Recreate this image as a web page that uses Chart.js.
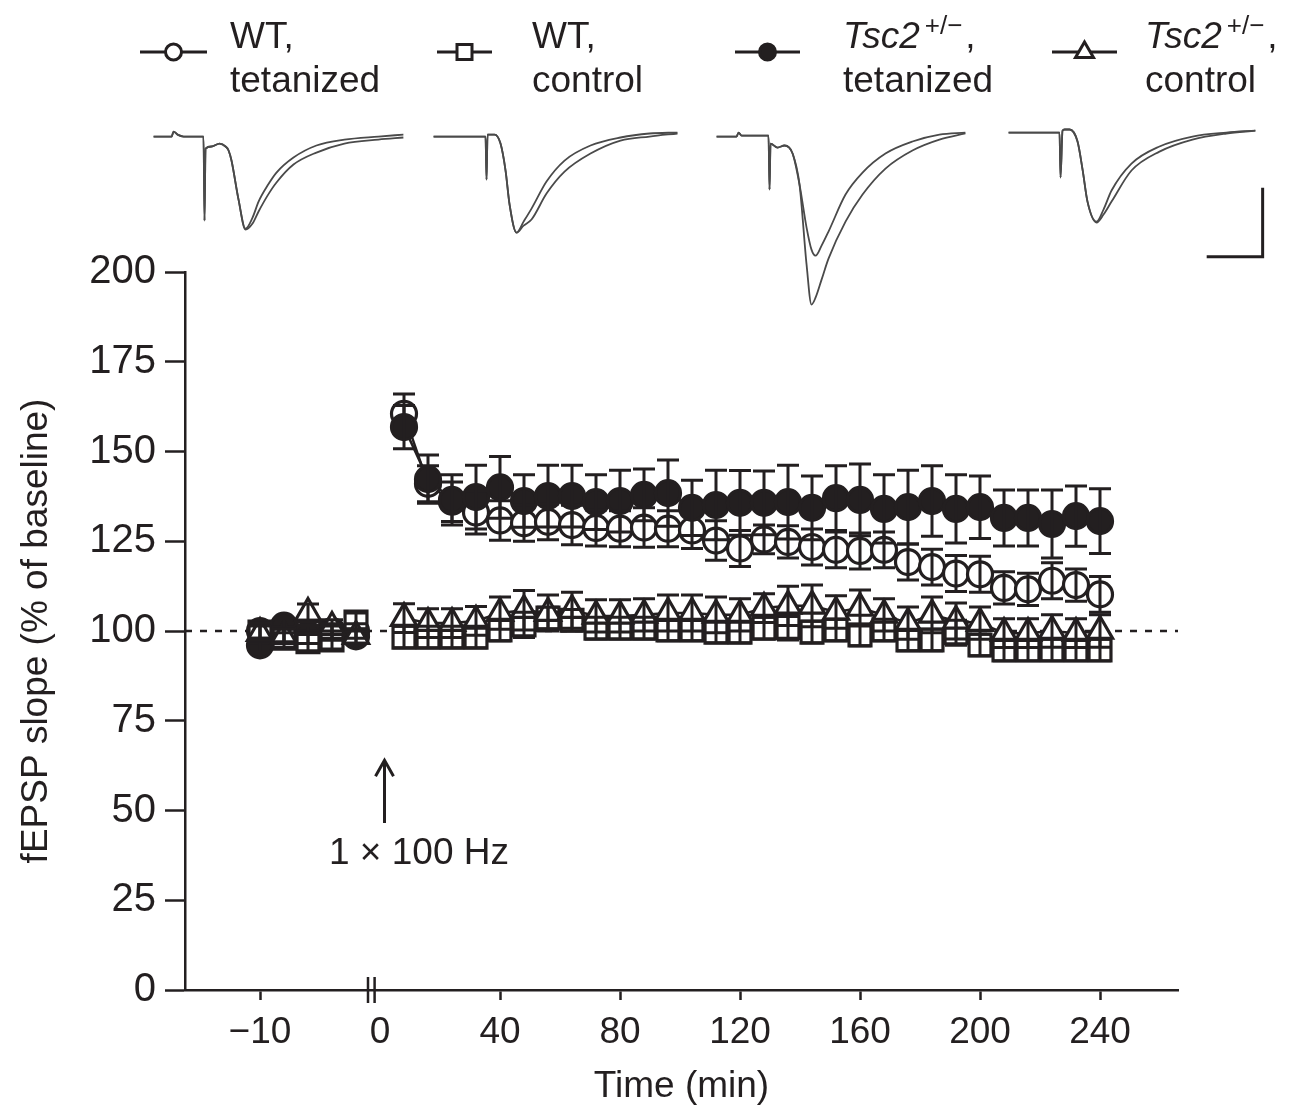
<!DOCTYPE html>
<html>
<head>
<meta charset="utf-8">
<script src="https://cdn.jsdelivr.net/npm/chart.js@4.4.1/dist/chart.umd.min.js"></script>
<style>
  html, body { margin: 0; padding: 0; background: #fff; }
  #wrap { position: relative; width: 1296px; height: 1119px; }
  #wrap canvas { position: absolute; }
</style>
</head>
<body>
<div id="wrap">
  <canvas id="main" width="1296" height="1119" style="left:0;top:0"></canvas>
  <canvas id="tr1" width="263" height="221" style="left:148px;top:102px"></canvas>
  <canvas id="tr2" width="263" height="221" style="left:428px;top:102px"></canvas>
  <canvas id="tr3" width="263" height="221" style="left:711px;top:102px"></canvas>
  <canvas id="tr4" width="263" height="221" style="left:1003px;top:98px"></canvas>
</div>
<script>
const ink = "#231f20";

// time points (min); baseline before the tetanus, then every 8 min after it
const minutes = [-10, -8, -6, -4, -2,
  8, 16, 24, 32, 40, 48, 56, 64, 72, 80, 88, 96, 104, 112, 120,
  128, 136, 144, 152, 160, 168, 176, 184, 192, 200, 208, 216, 224, 232, 240];

// fEPSP slope, % of baseline, with SEM
const wtTet = [100, 99, 101, 100, 100,
  160.5, 141, 136, 133, 130.8, 130, 130.4, 129.5, 128.7, 128.5,
  128.8, 128.5, 128, 125.2, 123, 125.5, 124.8, 123.4, 122.6, 122.3,
  122.6, 119.2, 117.8, 116, 115.8, 112, 111.6, 114, 112.8, 110.2];
const wtTetErr = [2, 2, 2, 2, 2,
  5.5, 5, 5.5, 6, 5.5, 5, 5, 5.5, 5, 5,
  5.5, 5, 5, 5.5, 5, 4, 4.5, 5, 5, 5,
  5, 5, 5, 5, 5, 4.5, 4.5, 5, 4.5, 5];

const wtCtl = [99.7, 98, 97, 97.5, 102.5,
  98.3, 98.3, 98.3, 98.3, 100.3, 101.7, 103.6, 103, 100.8, 100.8,
  100.8, 100.3, 100.3, 99.7, 99.7, 100.8, 101, 99.7, 100.3, 98.9,
  100.3, 97.5, 97.5, 99.5, 96.1, 94.7, 94.7, 94.7, 94.7, 94.7];
const wtCtlErr = [2.5, 2.5, 2.5, 2.5, 2.5,
  3, 3, 3, 3, 3, 3.5, 3, 3, 3, 3,
  3, 3, 3, 3, 3, 3, 3.5, 3, 3, 3,
  3, 3, 3, 3.5, 3, 3, 3, 3, 3, 3];

const tscTet = [96, 101.5, 99, 99.4, 98.5,
  156.8, 142.3, 136.5, 137.3, 140, 136.2, 137.6, 137.6, 135.9, 136.2,
  137.9, 138.4, 134.3, 135.1, 135.7, 135.7, 135.9, 134.3, 137, 136.5,
  134, 134.5, 136.2, 134, 134.5, 131.5, 131.5, 129.8, 132, 130.6];
const tscTetErr = [2, 2, 2.5, 2, 2,
  6, 6.7, 7, 8.9, 8.6, 7.3, 8.6, 8.6, 7.6, 8.6,
  7.2, 9.2, 7.7, 9.7, 9, 8.9, 10.3, 8.9, 9, 10,
  9.5, 10.3, 9.8, 9.5, 8.7, 7.8, 7.8, 9.5, 8.4, 9];

const tscCtl = [99.4, 98.6, 105, 101.1, 98.6,
  103.6, 102.2, 102.2, 102.8, 105, 105.8, 105, 105.8, 104.2, 104.2,
  104.5, 105, 105, 104.5, 104.5, 106.4, 107, 107, 105.3, 106.4,
  104.5, 102.2, 104.5, 102.8, 102.2, 99.4, 99.4, 100, 99.4, 100];
const tscCtlErr = [2, 2, 2.5, 2, 2,
  4, 4, 4, 4, 4.5, 5.5, 5, 5, 4.5, 4.5,
  4.5, 5, 5, 5, 4.5, 4, 5.5, 5.8, 4.5, 5,
  4.5, 4.5, 5, 5, 4.5, 4, 4, 4.5, 4, 4.5];

const xTickMinutes = [-10, 0, 40, 80, 120, 160, 200, 240];
const yTicks = [0, 25, 50, 75, 100, 125, 150, 175, 200];

// example fEPSP traces: time (ms), before / after (mV)
const tr1Time = [0, 1.61, 1.79, 2.14, 2.68, 4.46, 4.55, 4.64, 5.18, 5.89, 6.43, 6.7, 6.96, 7.59, 8.21, 8.84, 9.38, 10.18, 10.98, 12.5, 14.55, 17.05, 20.09, 22.32];
const tr1Before = [0, 0, 0.036, 0.014, 0, 0, -0.609, -0.087, -0.072, -0.051, -0.072, -0.101, -0.174, -0.457, -0.667, -0.587, -0.471, -0.355, -0.261, -0.152, -0.065, -0.022, 0, 0.014];
const tr1After = [0, 0, 0.036, 0.014, 0, 0, -0.609, -0.087, -0.072, -0.051, -0.072, -0.101, -0.174, -0.457, -0.674, -0.63, -0.543, -0.428, -0.333, -0.203, -0.116, -0.051, -0.022, -0.007];

const tr2Time = [0, 4.64, 4.73, 4.82, 5.45, 5.98, 6.43, 6.79, 7.41, 8.04, 8.75, 10.09, 11.7, 14.02, 16.7, 19.29, 21.79];
const tr2Before = [0, 0, -0.312, 0.014, 0.014, -0.051, -0.246, -0.493, -0.696, -0.616, -0.522, -0.326, -0.174, -0.065, -0.007, 0.022, 0.029];
const tr2After = [0, 0, -0.312, 0.014, 0.014, -0.051, -0.246, -0.493, -0.696, -0.645, -0.601, -0.413, -0.254, -0.123, -0.029, 0, 0.022];

const tr3Time = [0, 1.79, 1.96, 2.23, 4.64, 4.73, 4.82, 5.45, 6.07, 6.79, 7.41, 8.04, 8.48, 8.84, 9.38, 10, 11.52, 13.04, 15.09, 17.5, 19.91, 22.23];
const tr3Before = [0, 0, 0.029, 0.007, 0.007, -0.384, -0.051, -0.08, -0.065, -0.123, -0.348, -0.659, -0.819, -0.862, -0.79, -0.688, -0.42, -0.261, -0.123, -0.036, 0.014, 0.029];
const tr3After = [0, 0, 0.029, 0.007, 0.007, -0.384, -0.051, -0.08, -0.065, -0.123, -0.348, -0.928, -1.217, -1.167, -1.036, -0.884, -0.616, -0.42, -0.232, -0.101, -0.022, 0.022];

const tr4Time = [0, 4.55, 4.64, 4.82, 5, 5.45, 6.16, 6.61, 7.05, 7.86, 8.48, 9.2, 10.98, 13.48, 16.43, 19.46, 22.05];
const tr4Before = [0, 0, -0.326, 0.014, 0.022, 0.022, -0.065, -0.268, -0.5, -0.645, -0.558, -0.42, -0.225, -0.101, -0.029, 0, 0.014];
const tr4After = [0, 0, -0.326, 0.014, 0.022, 0.022, -0.065, -0.268, -0.5, -0.652, -0.594, -0.5, -0.275, -0.138, -0.051, -0.007, 0.014];

const scaleBarMs = 5, scaleBarMv = 0.5;

Chart.defaults.font.family = "'Liberation Sans', Arial, sans-serif";
Chart.defaults.color = ink;

// the baseline segment is drawn stretched 4x, left of the axis break
const toAxis = m => (m < 0 ? m * 4 : m);

function series(vals) {
  const pts = [];
  minutes.forEach((m, i) => {
    if (i > 0 && minutes[i - 1] < 0 && m > 0) pts.push({ x: -3, y: null });
    pts.push({ x: toAxis(m), y: vals[i] });
  });
  return pts;
}
function errs(vals) {
  const out = [];
  minutes.forEach((m, i) => {
    if (i > 0 && minutes[i - 1] < 0 && m > 0) out.push(null);
    out.push(vals[i]);
  });
  return out;
}

const errorBars = {
  id: "errorBars",
  afterDatasetsDraw(chart) {
    const ctx = chart.ctx, y = chart.scales.y;
    ctx.save();
    ctx.strokeStyle = ink;
    ctx.lineWidth = 3;
    chart.data.datasets.forEach((ds, di) => {
      if (!ds.errors) return;
      chart.getDatasetMeta(di).data.forEach((pt, i) => {
        const e = ds.errors[i], v = ds.data[i].y;
        if (e == null || v == null) return;
        const top = y.getPixelForValue(v + e), bot = y.getPixelForValue(v - e);
        ctx.beginPath();
        ctx.moveTo(pt.x, top); ctx.lineTo(pt.x, bot);
        ctx.moveTo(pt.x - 11, top); ctx.lineTo(pt.x + 11, top);
        ctx.moveTo(pt.x - 11, bot); ctx.lineTo(pt.x + 11, bot);
        ctx.stroke();
      });
    });
    ctx.restore();
  }
};

const legendItems = [
  { style: "circle", fill: "#fff", x0: 140, x1: 207, tx: 230, name: "WT", line2: "tetanized" },
  { style: "rect", fill: "#fff", x0: 437, x1: 492, tx: 532, name: "WT", line2: "control" },
  { style: "circle", fill: ink, x0: 735, x1: 800, tx: 843, name: "Tsc2", line2: "tetanized" },
  { style: "triangle", fill: "#fff", x0: 1052, x1: 1117, tx: 1145, name: "Tsc2", line2: "control" }
];

function marker(ctx, style, x, y, fill) {
  ctx.beginPath();
  if (style === "circle") ctx.arc(x, y, 8, 0, Math.PI * 2);
  else if (style === "rect") ctx.rect(x - 7.5, y - 7.5, 15, 15);
  else {
    ctx.moveTo(x, y - 10); ctx.lineTo(x + 9, y + 5.5); ctx.lineTo(x - 9, y + 5.5); ctx.closePath();
  }
  ctx.fillStyle = fill;
  ctx.fill();
  ctx.stroke();
}

const extras = {
  id: "extras",
  afterDraw(chart) {
    const { ctx, scales: { x, y } } = chart;
    ctx.save();
    ctx.strokeStyle = ink;
    ctx.fillStyle = ink;
    ctx.lineWidth = 2.5;

    // axis break marks
    const y0 = y.getPixelForValue(0);
    [-4, -1.8].forEach(v => {
      const px = x.getPixelForValue(v);
      ctx.beginPath(); ctx.moveTo(px, y0 - 13); ctx.lineTo(px, y0 + 13); ctx.stroke();
    });

    // stimulus arrow
    const ax = x.getPixelForValue(1.5), tip = y.getPixelForValue(64), tail = y.getPixelForValue(46.5);
    ctx.lineWidth = 3;
    ctx.beginPath();
    ctx.moveTo(ax, tail); ctx.lineTo(ax, tip);
    ctx.moveTo(ax - 9, tip + 16); ctx.lineTo(ax, tip); ctx.lineTo(ax + 9, tip + 16);
    ctx.stroke();
    ctx.font = "37px 'Liberation Sans'";
    ctx.textAlign = "center";
    ctx.textBaseline = "middle";
    ctx.fillText("1 \u00d7 100 Hz", x.getPixelForValue(13), y.getPixelForValue(38));

    // legend
    ctx.lineWidth = 3;
    ctx.textAlign = "left";
    ctx.textBaseline = "alphabetic";
    legendItems.forEach(it => {
      ctx.beginPath(); ctx.moveTo(it.x0, 52); ctx.lineTo(it.x1, 52); ctx.stroke();
      marker(ctx, it.style, (it.x0 + it.x1) / 2, 52, it.fill);
      ctx.fillStyle = ink;
      if (it.name === "Tsc2") {
        ctx.font = "italic 37px 'Liberation Sans'";
        ctx.fillText(it.name, it.tx, 48);
        let w = ctx.measureText(it.name).width;
        ctx.font = "26px 'Liberation Sans'";
        ctx.fillText("+/\u2212", it.tx + w + 5, 34);
        w += 5 + ctx.measureText("+/\u2212").width;
        ctx.font = "37px 'Liberation Sans'";
        ctx.fillText(",", it.tx + w + 3, 48);
      } else {
        ctx.font = "37px 'Liberation Sans'";
        ctx.fillText(it.name + ",", it.tx, 48);
      }
      ctx.font = "37px 'Liberation Sans'";
      ctx.fillText(it.line2, it.tx, 92);
    });
    ctx.restore();
  }
};

const pointBase = {
  pointBorderColor: ink, pointBorderWidth: 3.2,
  borderColor: ink, borderWidth: 2.5
};

new Chart(document.getElementById("main"), {
  type: "line",
  data: {
    datasets: [
      { label: "baseline", data: [{ x: -65, y: 100 }, { x: 266, y: 100 }],
        borderColor: ink, borderWidth: 2.5, borderDash: [7, 8], pointRadius: 0, order: 10 },
      { label: "WT, tetanized", data: series(wtTet), errors: errs(wtTetErr), ...pointBase,
        pointStyle: "circle", pointRadius: 12.5, pointBackgroundColor: "#fff", order: 4 },
      { label: "Tsc2+/-, tetanized", data: series(tscTet), errors: errs(tscTetErr), ...pointBase,
        pointStyle: "circle", pointRadius: 12.5, pointBackgroundColor: ink, order: 3 },
      { label: "WT, control", data: series(wtCtl), errors: errs(wtCtlErr), ...pointBase,
        pointStyle: "rect", pointRadius: 15.5, pointBackgroundColor: "#fff", order: 2 },
      { label: "Tsc2+/-, control", data: series(tscCtl), errors: errs(tscCtlErr), ...pointBase,
        pointStyle: "triangle", pointRadius: 14.5, pointBackgroundColor: "#fff", order: 1 }
    ]
  },
  options: {
    responsive: false,
    animation: false,
    events: [],
    layout: { padding: { left: 0, top: 272, right: 118, bottom: 0 } },
    plugins: { legend: { display: false }, tooltip: { enabled: false } },
    scales: {
      x: {
        type: "linear", min: -65, max: 266,
        afterBuildTicks: s => { s.ticks = xTickMinutes.map(m => ({ value: toAxis(m) })); },
        afterFit: s => { s.height = 129; },
        ticks: {
          autoSkip: false, maxRotation: 0, padding: 11,
          font: { size: 37 },
          callback: v => { const m = v < 0 ? v / 4 : v; return m < 0 ? "\u2212" + Math.abs(m) : String(m); }
        },
        grid: {
          drawOnChartArea: false, tickLength: 10, tickWidth: 2.5,
          tickColor: c => (c.tick && c.tick.value === 0 ? "rgba(0,0,0,0)" : ink)
        },
        border: { color: ink, width: 2.5 },
        title: { display: true, text: "Time (min)", font: { size: 37 }, padding: { top: 0, bottom: 10 } }
      },
      y: {
        min: 0, max: 200,
        afterBuildTicks: s => { s.ticks = yTicks.map(v => ({ value: v })); },
        afterFit: s => { s.width = 185; },
        ticks: { padding: 9, font: { size: 40 } },
        grid: { drawOnChartArea: false, tickLength: 20, tickWidth: 2.5, tickColor: ink },
        border: { color: ink, width: 2.5 },
        title: { display: true, text: "fEPSP slope (% of baseline)", font: { size: 37 }, padding: { top: 15, bottom: 0 } }
      }
    }
  },
  plugins: [errorBars, extras]
});

const scaleBar = {
  id: "scaleBar",
  afterDraw(chart) {
    const { ctx, scales: { x, y } } = chart;
    const xr = x.getPixelForValue(22.7), xl = x.getPixelForValue(22.7 - scaleBarMs);
    const yb = y.getPixelForValue(-0.9), yt = y.getPixelForValue(-0.9 + scaleBarMv);
    ctx.save();
    ctx.strokeStyle = ink;
    ctx.lineWidth = 3;
    ctx.beginPath();
    ctx.moveTo(xr, yt); ctx.lineTo(xr, yb); ctx.lineTo(xl, yb);
    ctx.stroke();
    ctx.restore();
  }
};

function traceChart(id, time, before, after, extra) {
  new Chart(document.getElementById(id), {
    type: "line",
    data: {
      datasets: [before, after].map(v => ({
        data: time.map((t, i) => ({ x: t, y: v[i] })),
        borderColor: "#4a4a4a", borderWidth: 1.8, pointRadius: 0,
        cubicInterpolationMode: "monotone"
      }))
    },
    options: {
      responsive: false, animation: false, events: [],
      layout: { padding: 0 },
      plugins: { legend: { display: false }, tooltip: { enabled: false } },
      scales: {
        x: { type: "linear", min: -0.5, max: 23, display: false },
        y: { min: -1.35, max: 0.25, display: false }
      }
    },
    plugins: extra ? [extra] : []
  });
}

traceChart("tr1", tr1Time, tr1Before, tr1After);
traceChart("tr2", tr2Time, tr2Before, tr2After);
traceChart("tr3", tr3Time, tr3Before, tr3After);
traceChart("tr4", tr4Time, tr4Before, tr4After, scaleBar);
</script>
</body>
</html>
